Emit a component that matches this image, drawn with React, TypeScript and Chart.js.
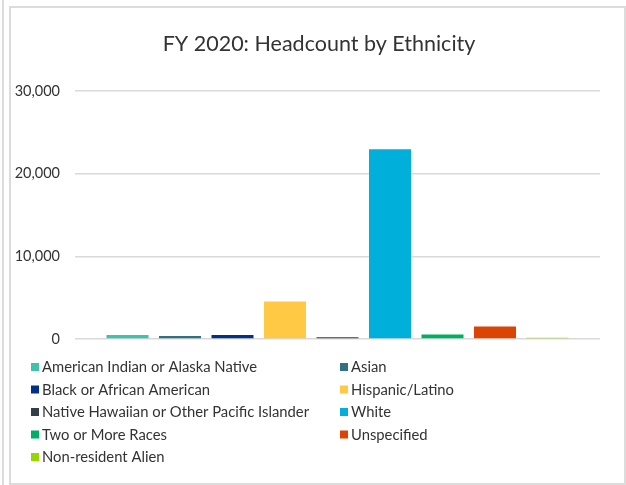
import React, { useEffect, useRef } from "react";
import { Chart, registerables } from "chart.js";

Chart.register(...registerables);

const categories = [
  "American Indian or Alaska Native",
  "Asian",
  "Black or African American",
  "Hispanic/Latino",
  "Native Hawaiian or Other Pacific Islander",
  "White",
  "Two or More Races",
  "Unspecified",
  "Non-resident Alien",
];
const headcounts = [480, 360, 480, 4550, 200, 22950, 550, 1520, 150];
const colors = [
  "#40C1AC",
  "#31707F",
  "#003087",
  "#FFC845",
  "#333F48",
  "#00B0DA",
  "#00AF66",
  "#DC4405",
  "#97D700",
];
const titleText = "FY 2020: Headcount by Ethnicity";
const yTicks = [0, 10000, 20000, 30000];

const FONT = "Lato, 'Open Sans', sans-serif";
const TEXT = "#333333";

const twoColumnLegend = {
  id: "twoColumnLegend",
  afterDraw(chart: any) {
    const ctx = chart.ctx;
    ctx.save();
    ctx.font = `14.8px ${FONT}`;
    ctx.textBaseline = "middle";
    ctx.textAlign = "left";
    chart.data.datasets.forEach((ds: any, i: number) => {
      const col = i % 2;
      const row = Math.floor(i / 2);
      const x0 = col === 0 ? 31 : 340;
      const y = 367 + row * 22.5;
      ctx.fillStyle = ds.backgroundColor;
      ctx.fillRect(x0, y - 4, 8, 8);
      ctx.fillStyle = TEXT;
      ctx.fillText(ds.label, x0 + 11, y + 0.5);
    });
    ctx.restore();
  },
};

export default function App() {
  const ref = useRef<HTMLCanvasElement | null>(null);
  useEffect(() => {
    if (!ref.current) return;
    const chart = new Chart(ref.current, {
      type: "bar",
      data: {
        labels: [""],
        datasets: categories.map((c, i) => ({
          label: c,
          data: [headcounts[i]],
          backgroundColor: colors[i],
          borderWidth: 0,
          categoryPercentage: 0.9,
          barPercentage: 0.8,
        })),
      },
      options: {
        animation: false,
        responsive: false,
        maintainAspectRatio: false,
        layout: { padding: { left: 12, right: 0, top: 0, bottom: 146 } },
        plugins: {
          legend: { display: false },
          tooltip: { enabled: false },
          title: {
            display: true,
            text: titleText,
            color: TEXT,
            font: { family: FONT, size: 21.5, weight: "normal", lineHeight: 1.2 },
            padding: { top: 31.5, bottom: 33.7 },
          },
        },
        scales: {
          x: { display: false },
          y: {
            min: 0,
            max: 30000,
            afterFit: (s: any) => {
              s.width = 63;
            },
            afterBuildTicks: (s: any) => {
              s.ticks = yTicks.map((v) => ({ value: v }));
            },
            border: { display: false },
            grid: { color: "#d9d9d9", lineWidth: 1.5, drawTicks: false },
            ticks: {
              padding: 15,
              color: TEXT,
              font: { family: FONT, size: 14.5 },
              callback: (v: any) => Number(v).toLocaleString("en-US"),
            },
          },
          yRight: {
            position: "right",
            display: true,
            min: 0,
            max: 30000,
            afterFit: (s: any) => {
              s.width = 26;
            },
            border: { display: false },
            grid: { display: false, drawTicks: false },
            ticks: { display: false },
          },
        },
      },
      plugins: [twoColumnLegend],
    });
    return () => chart.destroy();
  }, []);
  return (
    <div style={{ position: "fixed", left: 0, top: 0, width: 626, height: 485, background: "#fff" }}>
      <div style={{ position: "absolute", left: 2, top: 0, width: 2, height: 485, background: "#dcdcdc" }} />
      <div
        style={{
          position: "absolute",
          left: 9,
          top: 6,
          width: 617,
          height: 479,
          border: "2px solid #dcdcdc",
          boxSizing: "border-box",
        }}
      />
      <canvas ref={ref} width={626} height={485} style={{ position: "absolute", left: 0, top: 0, width: 626, height: 485 }} />
    </div>
  );
}
